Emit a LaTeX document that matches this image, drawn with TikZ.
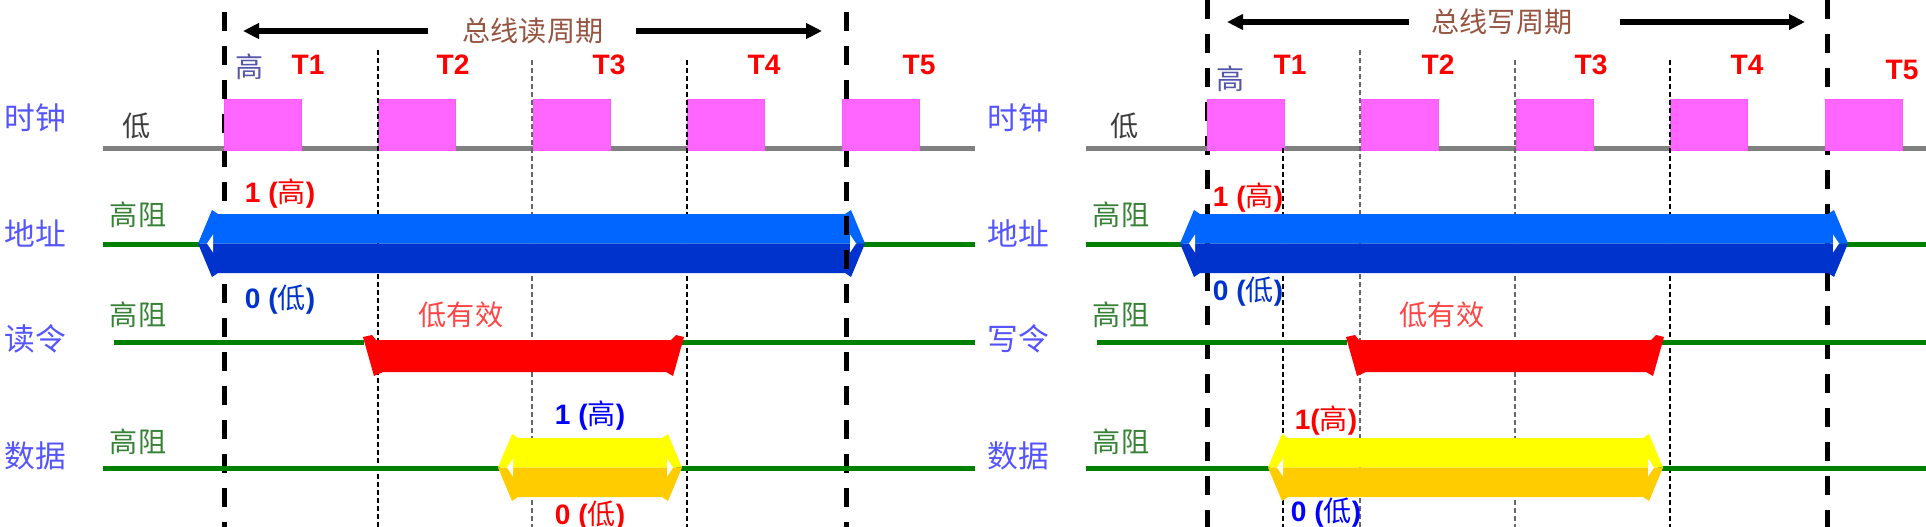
\documentclass[tikz,border=0pt]{standalone}
\usepackage{fontspec}
\setmainfont{Liberation Sans}
\newfontfamily\cjk{Noto Sans CJK SC}
\usetikzlibrary{arrows.meta}
\definecolor{busblue}{RGB}{0,102,255}
\definecolor{busdark}{RGB}{0,51,204}
\definecolor{datyellow}{RGB}{255,255,0}
\definecolor{datorange}{RGB}{255,204,0}
\definecolor{pulsepink}{RGB}{255,102,255}
\definecolor{clkgray}{RGB}{128,128,128}
\definecolor{linegreen}{RGB}{0,128,0}
\definecolor{rowblue}{RGB}{85,85,255}
\definecolor{hizgreen}{RGB}{55,130,55}
\definecolor{lowgray}{RGB}{60,60,60}
\definecolor{highblue}{RGB}{85,85,170}
\definecolor{titlebrown}{RGB}{150,85,65}
\definecolor{validred}{RGB}{255,70,70}
\definecolor{bitblue}{RGB}{0,51,204}
% 电平标注：1 (高)
\newcommand{\lv}[2]{#1({\mdseries\cjk #2})}
% 双向总线：左尖 右尖 上沿 下沿 上色 下色
\newcommand{\busbar}[6]{%
  \pgfmathsetmacro{\bm}{(#3+#4)/2}
  \fill[#5] (#1,\bm)--(#1+14,#3-4)--(#1+20,#3)--(#2-20,#3)--(#2-14,#3-4)--(#2,\bm)--cycle;
  \fill[#6] (#1,\bm)--(#1+14,#4+4)--(#1+20,#4)--(#2-20,#4)--(#2-14,#4+4)--(#2,\bm)--cycle;
  \fill[white] (#1+9,\bm)--(#1+15,\bm-9)--(#1+15,\bm+9)--cycle;
  \fill[white] (#2-9,\bm)--(#2-15,\bm-9)--(#2-15,\bm+9)--cycle;}
% 命令线（低有效）
\newcommand{\cmdbar}[4]{%
  \fill[red] (#1,#3-3)--(#1+9,#3-5)--(#1+13,#3)--(#2-13,#3)--(#2-8,#3-5)--(#2,#3-3)
    --(#2-11,#4+4)--(#2-18,#4)--(#1+20,#4)--(#1+11,#4+4)--cycle;}
\begin{document}
\begin{tikzpicture}[x=0.02cm,y=-0.02cm,inner sep=0pt,
  cnfont/.style={font=\cjk\fontsize{16}{18}\selectfont},
  rowlab/.style={font=\cjk\fontsize{17.5}{20}\selectfont,text=rowblue},
  hiz/.style={cnfont,text=hizgreen},
  tlab/.style={font=\bfseries\fontsize{16}{18}\selectfont,text=red},
  bitlab/.style={font=\bfseries\fontsize{16}{18}\selectfont},
  clkline/.style={draw=clkgray,line width=0.1cm},
  clkpulse/.style={fill=pulsepink,draw=pulsepink!85!magenta,line width=0.3pt},
  hizline/.style={draw=linegreen,line width=0.1cm},
  cycleline/.style={line width=0.1cm,dash pattern=on 0.38cm off 0.3cm},
  tickline/.style={line width=0.8pt,dash pattern=on 0.1cm off 0.06cm},
  cyclearrow/.style={line width=0.11cm,-{Triangle[length=0.32cm,width=0.3cm]}}]
\useasboundingbox (0,0) rectangle (1926,527);

%%%% 总线读周期
\draw[cycleline] (224,12)--(224,527);
\draw[cycleline] (846,12)--(846,527);
\node[cnfont,text=titlebrown] (rdtitle) at (533,31) {总线读周期};
\coordinate (rdA) at (243,31);
\coordinate (rdB) at (822,31);
\draw[cyclearrow] ([xshift=-0.68cm]rdtitle.west)--(rdA);
\draw[cyclearrow] ([xshift=0.64cm]rdtitle.east)--(rdB);
\foreach \x/\t in {308/1,453/2,609/3,764/4,919/5}
  \node[tlab] (rdT\t) at (\x,65) {T\t};
\node[rowlab] (rdclk) at (35,118) {时钟};
\node[rowlab] (rdadr) at (35,233) {地址};
\node[rowlab] (rdcmd) at (35,339) {读令};
\node[rowlab] (rddat) at (35,456) {数据};
\node[cnfont,text=lowgray] (rdlow) at (137,126) {低};
\node[cnfont,text=highblue] (rdhigh) at (250,67) {高};
\node[hiz] (rdhz1) at (138,215) {高阻};
\node[hiz] (rdhz2) at (138,315) {高阻};
\node[hiz] (rdhz3) at (138,442) {高阻};
% 时钟
\draw[clkline] (103,148)--(975,148);
\foreach \i in {0,...,4}
  \path[clkpulse] ({224+154.5*\i},99) rectangle ({301+154.5*\i},150);
\draw[tickline] (378,50)--(378,527);
\draw[tickline,black!60] (532,60)--(532,527);
\draw[tickline] (687,60)--(687,527);
% 地址
\draw[hizline] (103,244)--(200,244) (857,244)--(975,244);
\busbar{198}{865}{214}{273}{busblue}{busdark}
\draw[cycleline,dash phase=0.46cm] (846,205)--(846,285);
\node[bitlab,text=red] (rdadr1) at (280,194) {\lv{1 }{高}};
\node[bitlab,text=bitblue] (rdadr0) at (280,300) {\lv{0 }{低}};
% 读令
\draw[hizline] (114,342)--(364,342) (676,342)--(975,342);
\cmdbar{363}{684}{340}{372}
\node[cnfont,text=validred] (rdvalid) at (461,315) {低有效};
% 数据
\draw[hizline] (103,468)--(500,468) (676,468)--(975,468);
\busbar{498}{682}{438}{497}{datyellow}{datorange}
\node[bitlab,text=blue] (rddat1) at (590,416) {\lv{1 }{高}};
\node[bitlab,text=red] (rddat0) at (590,516) {\lv{0 }{低}};

%%%% 总线写周期
\begin{scope}[shift={(983,0)}]
\draw[cycleline] (224,0)--(224,527);
\draw[cycleline] (844,0)--(844,527);
\node[cnfont,text=titlebrown] (wrtitle) at (519,22) {总线写周期};
\coordinate (wrA) at (244,22);
\coordinate (wrB) at (822,22);
\draw[cyclearrow] ([xshift=-0.44cm]wrtitle.west)--(wrA);
\draw[cyclearrow] ([xshift=0.94cm]wrtitle.east)--(wrB);
\foreach \x/\y/\t in {307/65/1,455/65/2,608/65/3,764/65/4,919/70/5}
  \node[tlab] (wrT\t) at (\x,\y) {T\t};
\node[rowlab] (wrclk) at (35,118) {时钟};
\node[rowlab] (wradr) at (35,233) {地址};
\node[rowlab] (wrcmd) at (35,339) {写令};
\node[rowlab] (wrdat) at (35,456) {数据};
\node[cnfont,text=lowgray] (wrlow) at (142,126) {低};
\node[cnfont,text=highblue] (wrhigh) at (248,79) {高};
\node[hiz] (wrhz1) at (138,215) {高阻};
\node[hiz] (wrhz2) at (138,315) {高阻};
\node[hiz] (wrhz3) at (138,442) {高阻};
% 时钟
\draw[clkline] (103,148)--(943,148);
\foreach \i in {0,...,4}
  \path[clkpulse] ({224+154.5*\i},99) rectangle ({301+154.5*\i},150);
\draw[tickline] (300,148)--(300,527);
\draw[tickline,black!60] (377,50)--(377,527);
\draw[tickline,black!60] (532,60)--(532,527);
\draw[tickline] (687,60)--(687,527);
% 地址
\draw[hizline] (103,244)--(200,244) (857,244)--(943,244);
\busbar{197}{865}{214}{273}{busblue}{busdark}
\node[bitlab,text=red] (wradr1) at (265,198) {\lv{1 }{高}};
\node[bitlab,text=bitblue] (wradr0) at (265,292) {\lv{0 }{低}};
% 写令
\draw[hizline] (114,342)--(364,342) (675,342)--(943,342);
\cmdbar{363}{681}{340}{372}
\node[cnfont,text=validred] (wrvalid) at (459,315) {低有效};
% 数据
\draw[hizline] (103,468)--(287,468) (675,468)--(943,468);
\busbar{285}{680}{438}{497}{datyellow}{datorange}
\node[bitlab,text=red] (wrdat1) at (343,421) {\lv{1}{高}};
\node[bitlab,text=blue] (wrdat0) at (343,513) {\lv{0 }{低}};
\end{scope}
\end{tikzpicture}
\end{document}
